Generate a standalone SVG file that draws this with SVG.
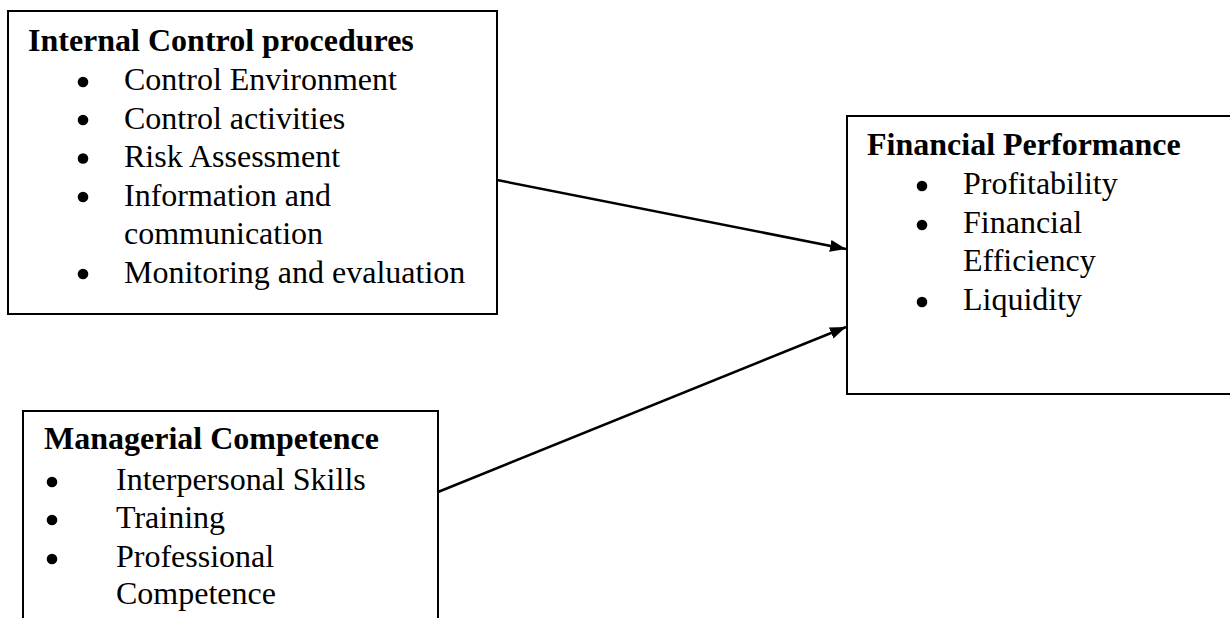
<svg xmlns="http://www.w3.org/2000/svg" width="1230" height="618" viewBox="0 0 1230 618">
<style>
.box{fill:#fff;stroke:#000;stroke-width:2}
.t{font-family:"Liberation Serif","Times New Roman",serif;font-size:32px;fill:#000}
.b{font-weight:bold}
.bul{fill:#000}
.conn{stroke:#000;stroke-width:2.5;fill:none}
</style>
<defs>
<marker id="arr" viewBox="0 0 16 12" refX="16" refY="6" markerWidth="16" markerHeight="12" markerUnits="userSpaceOnUse" orient="auto">
<path d="M0,0 L16,6 L0,12 z" fill="#000"/>
</marker>
</defs>
<rect width="1230" height="618" fill="#fff"/>
<g id="internal-control">
<rect class="box" x="8" y="11" width="489" height="303"/>
<text class="t b" x="28" y="51">Internal Control procedures</text>
<circle class="bul" cx="83" cy="82" r="5.3"/>
<text class="t" x="124" y="90">Control Environment</text>
<circle class="bul" cx="83" cy="120" r="5.3"/>
<text class="t" x="124" y="128.5">Control activities</text>
<circle class="bul" cx="83" cy="158.5" r="5.3"/>
<text class="t" x="124" y="167">Risk Assessment</text>
<circle class="bul" cx="83" cy="197" r="5.3"/>
<text class="t" x="124" y="205.5">Information and</text>
<text class="t" x="124" y="244">communication</text>
<circle class="bul" cx="83" cy="274" r="5.3"/>
<text class="t" x="124" y="282.5">Monitoring and evaluation</text>
</g>
<g id="managerial-competence">
<rect class="box" x="23" y="411" width="415" height="230"/>
<text class="t b" x="44" y="449">Managerial Competence</text>
<circle class="bul" cx="52" cy="482" r="5.3"/>
<text class="t" x="116" y="490">Interpersonal Skills</text>
<circle class="bul" cx="52" cy="520" r="5.3"/>
<text class="t" x="116" y="528">Training</text>
<circle class="bul" cx="52" cy="559" r="5.3"/>
<text class="t" x="116" y="567">Professional</text>
<text class="t" x="116" y="604">Competence</text>
</g>
<g id="financial-performance">
<rect class="box" x="847" y="116" width="400" height="278"/>
<text class="t b" x="867" y="155">Financial Performance</text>
<circle class="bul" cx="922" cy="186" r="5.3"/>
<text class="t" x="963" y="194">Profitability</text>
<circle class="bul" cx="922" cy="225" r="5.3"/>
<text class="t" x="963" y="233">Financial</text>
<text class="t" x="963" y="271">Efficiency</text>
<circle class="bul" cx="922" cy="302" r="5.3"/>
<text class="t" x="963" y="310">Liquidity</text>
</g>
<g id="connectors">
<line class="conn" x1="497" y1="180" x2="846" y2="249" marker-end="url(#arr)"/>
<line class="conn" x1="438" y1="492" x2="846" y2="327" marker-end="url(#arr)"/>
</g>
</svg>
